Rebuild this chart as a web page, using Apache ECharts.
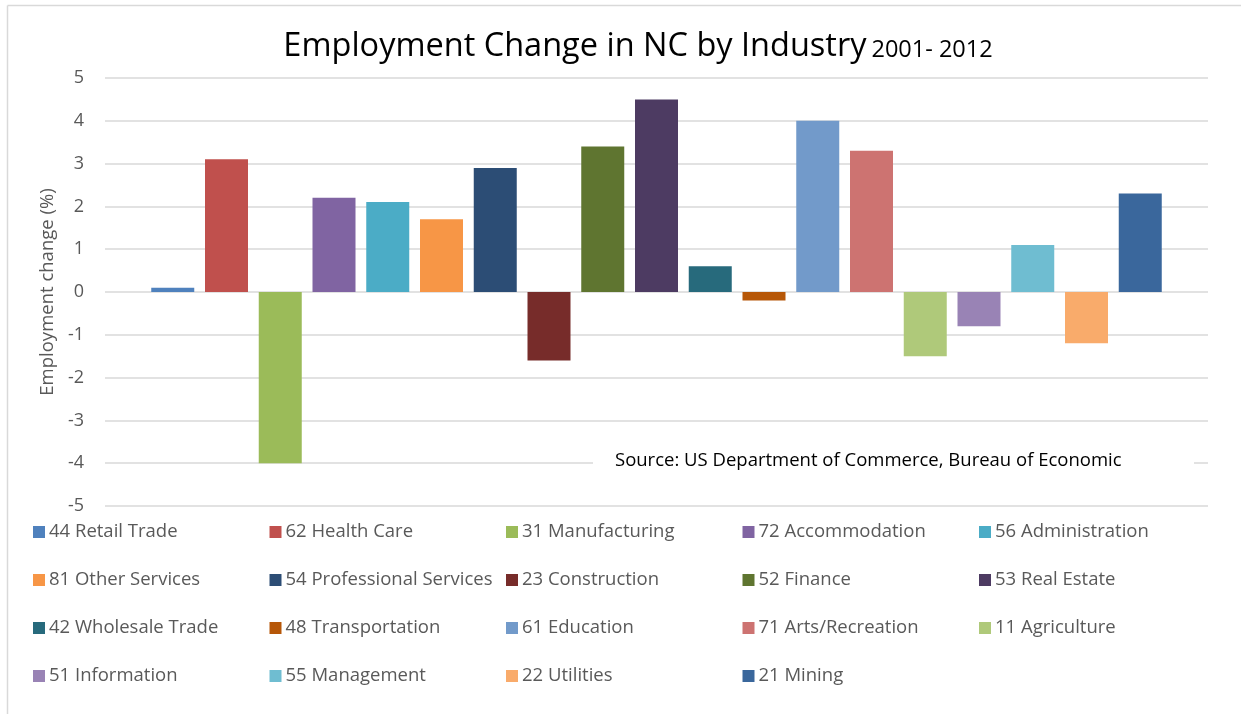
<!DOCTYPE html>
<html>
<head>
<meta charset="utf-8">
<script src="https://cdn.jsdelivr.net/npm/echarts@6/dist/echarts.min.js"></script>
<style>
html,body{margin:0;padding:0;background:#fff;}
#chart{width:1241px;height:714px;}
</style>
</head>
<body>
<div id="chart"></div>
<script>
const industries = ["44 Retail Trade","62 Health Care","31 Manufacturing","72 Accommodation","56 Administration",
  "81 Other Services","54 Professional Services","23 Construction","52 Finance","53 Real Estate",
  "42 Wholesale Trade","48 Transportation","61 Education","71 Arts/Recreation","11 Agriculture",
  "51 Information","55 Management","22 Utilities","21 Mining"];
const changes = [0.1, 3.1, -4.0, 2.2, 2.1, 1.7, 2.9, -1.6, 3.4, 4.5, 0.6, -0.2, 4.0, 3.3, -1.5, -0.8, 1.1, -1.2, 2.3];
const colors = ["#4F81BD","#C0504D","#9BBB59","#8064A2","#4BACC6","#F79646","#2C4D75","#772C2A","#5F7530","#4D3B62",
  "#276A7C","#B65708","#729ACA","#CD7371","#AFC97A","#9983B5","#6FBDD1","#F9AB6B","#3A679C"];
const yTicks = [-5,-4,-3,-2,-1,0,1,2,3,4,5];

const FONT = "'Open Sans','Noto Sans',sans-serif";
const chart = echarts.init(document.getElementById('chart'));
const series = industries.map((name, i) => ({
  name: name,
  type: 'bar',
  data: [changes[i]],
  barWidth: 43,
  barGap: '25%',
  itemStyle: { color: colors[i] },
  emphasis: { disabled: true }
}));

chart.setOption({
  animation: false,
  backgroundColor: '#fff',
  title: {
    text: '{a|Employment Change in NC by Industry} {b|2001- 2012}',
    left: 633, textAlign: 'center', top: 25,
    textStyle: {
      fontWeight: 'normal',
      rich: {
        a: { fontFamily: FONT, fontSize: 32.5, fontWeight: 'normal', color: '#000' },
        b: { fontFamily: FONT, fontSize: 23.5, fontWeight: 'normal', color: '#000', padding: [8,0,0,0] }
      }
    }
  },
  grid: { left: 105, right: 33, top: 78, bottom: 208 },
  xAxis: {
    type: 'category', data: ['NC'],
    axisLine: { show: false }, axisTick: { show: false }, axisLabel: { show: false }
  },
  yAxis: {
    type: 'value', min: yTicks[0], max: yTicks[yTicks.length-1], interval: 1,
    name: 'Employment change (%)', nameLocation: 'middle', nameGap: 47, nameRotate: 90,
    nameTextStyle: { fontFamily: FONT, fontSize: 18.5, color: '#595959' },
    axisLabel: { fontFamily: FONT, fontSize: 18, color: '#595959', margin: 21 },
    axisLine: { show: false }, axisTick: { show: false },
    splitLine: { lineStyle: { color: '#d9d9d9', width: 1.5 } }
  },
  legend: {
    data: industries, left: 33, top: 508, width: 1200,
    orient: 'horizontal', itemGap: 0, itemWidth: 12, itemHeight: 12,
    icon: 'rect', padding: 0,
    textStyle: { fontFamily: FONT, fontSize: 18.5, color: '#595959', width: 220.5, lineHeight: 48, padding: [0,0,0,-1] }
  },
  graphic: [
    { type: 'line', shape: { x1: 7.5, y1: 5.5, x2: 1241, y2: 5.5 }, style: { stroke: '#d9d9d9', lineWidth: 1.5 } },
    { type: 'line', shape: { x1: 7.5, y1: 5.5, x2: 7.5, y2: 714 }, style: { stroke: '#d9d9d9', lineWidth: 1.5 } },
    { type: 'rect', shape: { x: 593, y: 445, width: 601, height: 32 }, style: { fill: '#fff' }, z: 10 },
    { type: 'text', x: 615, y: 461, z: 11,
      style: { text: 'Source: US Department of Commerce, Bureau of Economic', fontFamily: FONT, fontSize: 18.5,
        fill: '#000', verticalAlign: 'middle', textAlign: 'left' } }
  ],
  series: series
});
</script>
</body>
</html>
